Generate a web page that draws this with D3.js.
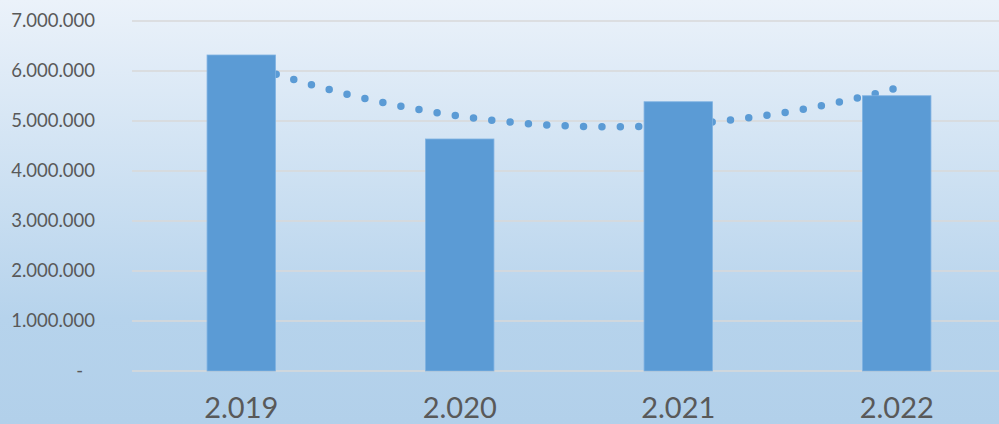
<!DOCTYPE html>
<html>
<head>
<meta charset="utf-8">
<script src="https://cdn.jsdelivr.net/npm/d3@7"></script>
<style>
  html, body { margin: 0; padding: 0; }
  svg { display: block; }
</style>
</head>
<body>
<svg id="chart"></svg>
<script>
// data
const years = ["2.019", "2.020", "2.021", "2.022"];
const values = [6320000, 4640000, 5385000, 5505000];
const yTicks = [0, 1000000, 2000000, 3000000, 4000000, 5000000, 6000000, 7000000];

const width = 999;
const height = 424;
const margin = {top: 21, right: -7, bottom: 53, left: 132};

const svg = d3.select("#chart")
  .attr("width", width)
  .attr("height", height);

// background gradient
const defs = svg.append("defs");
const grad = defs.append("linearGradient")
  .attr("id", "bg")
  .attr("x1", 0).attr("y1", 0).attr("x2", 0).attr("y2", 1);
grad.append("stop").attr("offset", "0%").attr("stop-color", "#ebf2fa");
grad.append("stop").attr("offset", "75%").attr("stop-color", "#b6d3ec");
grad.append("stop").attr("offset", "100%").attr("stop-color", "#b2d0ea");

svg.append("rect")
  .attr("width", width)
  .attr("height", height)
  .attr("fill", "url(#bg)");

const x = d3.scaleBand()
  .domain(years)
  .range([margin.left, width - margin.right])
  .paddingInner(0.687)
  .paddingOuter(0.3435);

const y = d3.scaleLinear()
  .domain([0, 7000000])
  .range([height - margin.bottom, margin.top]);

// gridlines
svg.append("g")
  .selectAll("line")
  .data(yTicks)
  .join("line")
  .attr("x1", margin.left)
  .attr("x2", width)
  .attr("y1", d => y(d))
  .attr("y2", d => y(d))
  .attr("stroke", "#d9d9d9")
  .attr("stroke-width", 1.5);

// y axis labels
const fmt = d => d === 0 ? "-" : d3.format(",")(d).replace(/,/g, ".");
svg.append("g")
  .selectAll("text")
  .data(yTicks)
  .join("text")
  .attr("x", d => d === 0 ? 83 : 95)
  .attr("y", d => y(d))
  .attr("dy", "0.35em")
  .attr("text-anchor", "end")
  .attr("font-family", "Lato, 'Open Sans', sans-serif")
  .attr("font-size", 18.5)
  .attr("fill", "#595959")
  .text(fmt);

// polynomial (order 2) trendline, least squares on the bar values
const xs = values.map((d, i) => i + 1);
function polyFit(xv, yv) {
  // normal equations for a + b x + c x^2
  const s = k => d3.sum(xv, v => Math.pow(v, k));
  const t = k => d3.sum(xv, (v, i) => Math.pow(v, k) * yv[i]);
  const A = [[s(0), s(1), s(2)], [s(1), s(2), s(3)], [s(2), s(3), s(4)]];
  const B = [t(0), t(1), t(2)];
  // gaussian elimination
  for (let i = 0; i < 3; i++) {
    for (let j = i + 1; j < 3; j++) {
      const f = A[j][i] / A[i][i];
      for (let k = i; k < 3; k++) A[j][k] -= f * A[i][k];
      B[j] -= f * B[i];
    }
  }
  const c = [0, 0, 0];
  for (let i = 2; i >= 0; i--) {
    let acc = B[i];
    for (let k = i + 1; k < 3; k++) acc -= A[i][k] * c[k];
    c[i] = acc / A[i][i];
  }
  return c;
}
const coef = polyFit(xs, values);
const step = x.step();
const xPos = v => x(years[0]) + x.bandwidth() / 2 + (v - 1) * step;
const trend = d3.range(1, 4.001, 0.02).map(v => [xPos(v), y(coef[0] + coef[1] * v + coef[2] * v * v)]);

svg.append("path")
  .datum(trend)
  .attr("fill", "none")
  .attr("stroke", "#5b9bd5")
  .attr("stroke-width", 7.5)
  .attr("stroke-linecap", "round")
  .attr("stroke-dasharray", "0 18.4")
  .attr("d", d3.line());

// bars
svg.append("g")
  .selectAll("rect")
  .data(values)
  .join("rect")
  .attr("x", (d, i) => x(years[i]))
  .attr("y", d => y(d))
  .attr("width", x.bandwidth())
  .attr("height", d => y(0) - y(d))
  .attr("fill", "#5b9bd5")
  .attr("stroke", "#7fb2e2")
  .attr("stroke-width", 0.8);

// x axis labels
svg.append("g")
  .selectAll("text")
  .data(years)
  .join("text")
  .attr("x", d => x(d) + x.bandwidth() / 2)
  .attr("y", 418)
  .attr("text-anchor", "middle")
  .attr("font-family", "Lato, 'Open Sans', sans-serif")
  .attr("font-size", 29)
  .attr("fill", "#595959")
  .text(d => d);
</script>
</body>
</html>
